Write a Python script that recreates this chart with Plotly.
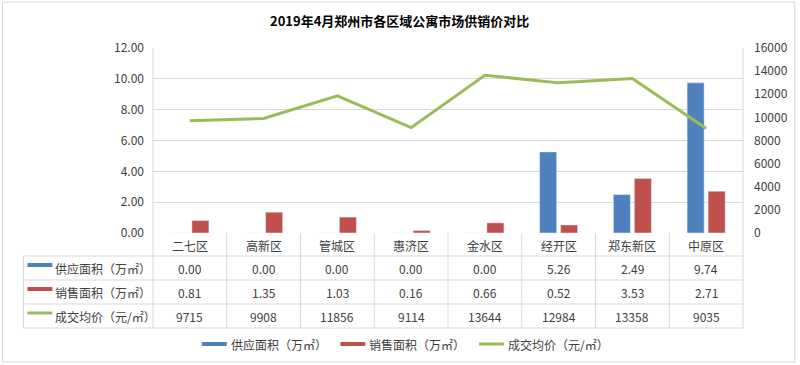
import plotly.graph_objects as go

categories = ["二七区", "高新区", "管城区", "惠济区", "金水区", "经开区", "郑东新区", "中原区"]
supply = [0.00, 0.00, 0.00, 0.00, 0.00, 5.26, 2.49, 9.74]
sales = [0.81, 1.35, 1.03, 0.16, 0.66, 0.52, 3.53, 2.71]
price = [9715, 9908, 11856, 9114, 13644, 12984, 13358, 9035]
series_names = ["供应面积（万㎡）", "销售面积（万㎡）", "成交均价（元/㎡）"]
left_ticks = [0, 2, 4, 6, 8, 10, 12]
right_ticks = [0, 2000, 4000, 6000, 8000, 10000, 12000, 14000, 16000]

BLUE = "#4F81BD"
RED = "#C0504D"
GREEN = "#9BBB59"
GRID = "#D9D9D9"
TXT = "#404040"
FONT = "Noto Sans CJK SC"

W, H = 800, 365
L, R, T, B = 153, 745, 48, 233
PW, PH = R - L, B - T


def px(x):
    return (x - L) / PW


def py(y):
    return (B - y) / PH


x_idx = list(range(len(categories)))

fig = go.Figure()
fig.add_trace(go.Bar(x=x_idx, y=supply, name=series_names[0], marker_color=BLUE, yaxis="y"))
fig.add_trace(go.Bar(x=x_idx, y=sales, name=series_names[1], marker_color=RED, yaxis="y"))
fig.add_trace(go.Scatter(x=x_idx, y=price, name=series_names[2], mode="lines",
                         line=dict(color=GREEN, width=3), yaxis="y2"))

shapes = []
annotations = []

# outer border
shapes.append(dict(type="rect", xref="paper", yref="paper", x0=px(2), x1=px(797), y0=py(362), y1=py(2),
                   line=dict(color="#D9D9D9", width=1), layer="below"))
# plot area side borders
for xv in (L, R):
    shapes.append(dict(type="line", xref="paper", yref="paper", x0=px(xv), x1=px(xv), y0=py(328), y1=py(T),
                       line=dict(color=GRID, width=1)))
# table vertical separators between categories
for i in range(1, len(categories)):
    shapes.append(dict(type="line", xref="x", yref="paper", x0=i - 0.5, x1=i - 0.5, y0=py(328), y1=py(B),
                       line=dict(color=GRID, width=1)))
# table left edge
shapes.append(dict(type="line", xref="paper", yref="paper", x0=px(23), x1=px(23), y0=py(328), y1=py(256),
                   line=dict(color=GRID, width=1)))
# horizontal table lines
for yv in (256, 280, 304, 328):
    shapes.append(dict(type="line", xref="paper", yref="paper", x0=px(23), x1=px(R), y0=py(yv), y1=py(yv),
                       line=dict(color=GRID, width=1)))

# category labels
for i, c in enumerate(categories):
    annotations.append(dict(x=i, y=py(245), xref="x", yref="paper", text=c, showarrow=False,
                            font=dict(family=FONT, size=12, color=TXT), xanchor="center", yanchor="middle"))

rows = [
    ([f"{v:.2f}" for v in supply], BLUE, "bar"),
    ([f"{v:.2f}" for v in sales], RED, "bar"),
    ([f"{v}" for v in price], GREEN, "line"),
]
row_centers = [268, 292, 316]
for (vals, col, kind), name, yc in zip(rows, series_names, row_centers):
    for i, v in enumerate(vals):
        annotations.append(dict(x=i, y=py(yc), xref="x", yref="paper", text=v, showarrow=False,
                                font=dict(family=FONT, size=12, color=TXT), xanchor="center", yanchor="middle"))
    if kind == "bar":
        shapes.append(dict(type="rect", xref="paper", yref="paper", x0=px(27), x1=px(52),
                           y0=py(yc - 5), y1=py(yc - 1), fillcolor=col, line=dict(width=0)))
    else:
        shapes.append(dict(type="line", xref="paper", yref="paper", x0=px(27), x1=px(52),
                           y0=py(yc - 3), y1=py(yc - 3), line=dict(color=col, width=3)))
    annotations.append(dict(x=px(53), y=py(yc), xref="paper", yref="paper", text=name, showarrow=False,
                            font=dict(family=FONT, size=12, color=TXT), xanchor="left", yanchor="middle"))

# bottom legend
legend_items = [(202, BLUE, "bar"), (341, RED, "bar"), (480, GREEN, "line")]
for (x0, col, kind), name in zip(legend_items, series_names):
    if kind == "bar":
        shapes.append(dict(type="rect", xref="paper", yref="paper", x0=px(x0), x1=px(x0 + 25),
                           y0=py(346), y1=py(342), fillcolor=col, line=dict(width=0)))
    else:
        shapes.append(dict(type="line", xref="paper", yref="paper", x0=px(x0), x1=px(x0 + 25),
                           y0=py(344), y1=py(344), line=dict(color=col, width=3)))
    annotations.append(dict(x=px(x0 + 27), y=py(344), xref="paper", yref="paper", text=name, showarrow=False,
                            font=dict(family=FONT, size=12, color=TXT), xanchor="left", yanchor="middle"))

# title
annotations.append(dict(x=px(400), y=py(21), xref="paper", yref="paper", xanchor="center", yanchor="middle",
                        text="<b>2019年4月郑州市各区域公寓市场供销价对比</b>", showarrow=False,
                        font=dict(family=FONT, size=13, color="#000000")))

fig.update_layout(
    width=W, height=H,
    margin=dict(l=L, r=W - R, t=T, b=H - B),
    paper_bgcolor="white", plot_bgcolor="white",
    showlegend=False,
    barmode="group", bargap=0.43, bargroupgap=0.19,
    font=dict(family=FONT, size=12, color=TXT),
    xaxis=dict(range=[-0.5, len(categories) - 0.5], showticklabels=False, showgrid=False,
               zeroline=False, showline=False, ticks=""),
    yaxis=dict(range=[0, 12], tickvals=left_ticks, tickformat=".2f", showgrid=True, gridcolor=GRID,
               gridwidth=1, zeroline=False, showline=False, ticks="", ticklabelstandoff=8,
               tickfont=dict(family=FONT, size=12, color=TXT)),
    yaxis2=dict(range=[0, 16000], tickvals=right_ticks, tickformat="d", overlaying="y", side="right",
                showgrid=False, zeroline=False, showline=False, ticks="", ticklabelstandoff=10,
                tickfont=dict(family=FONT, size=12, color=TXT)),
    shapes=shapes,
    annotations=annotations,
)

fig.write_html("out.html", config={"displayModeBar": False},
               post_script="document.body.style.margin='0';")
